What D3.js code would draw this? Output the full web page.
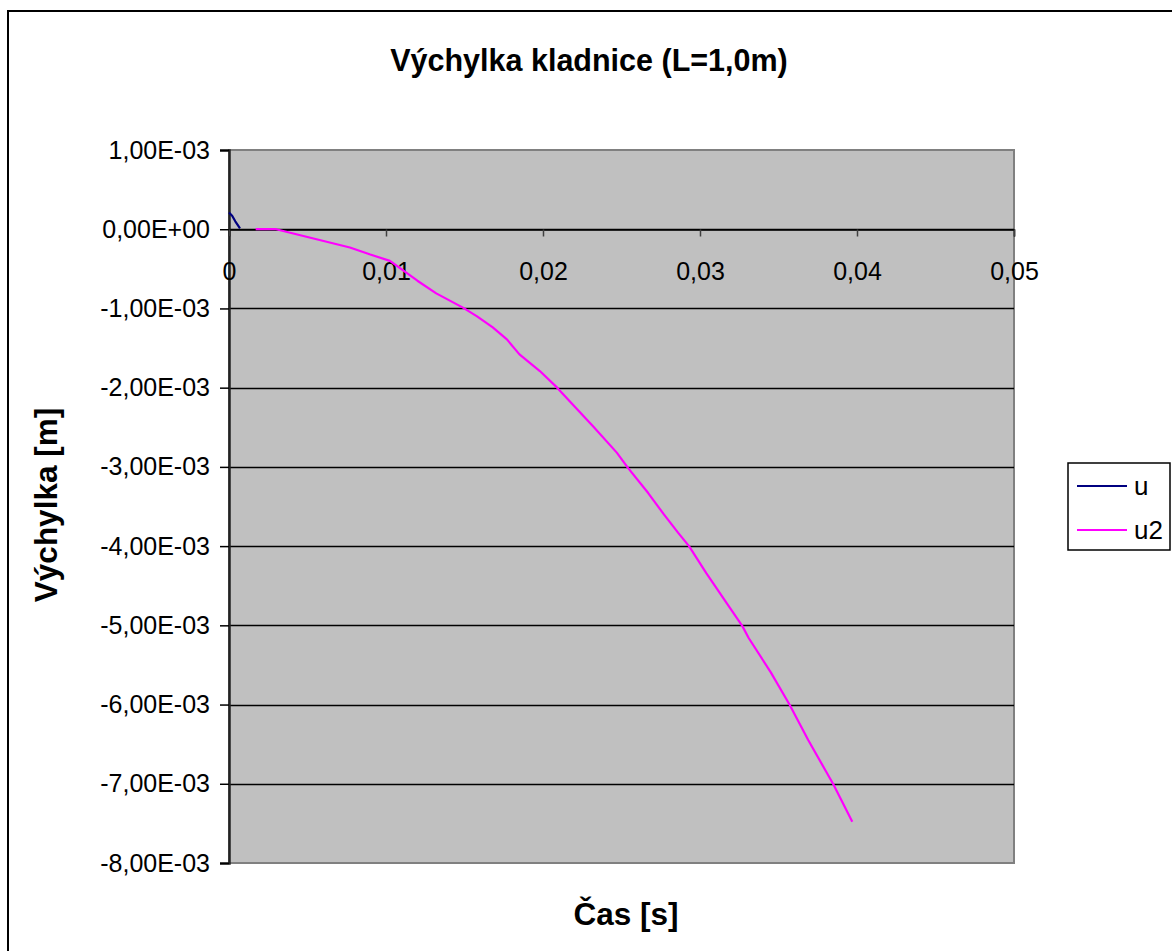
<!DOCTYPE html>
<html>
<head>
<meta charset="utf-8">
<script src="https://cdn.jsdelivr.net/npm/d3@7"></script>
<style>
  html, body { margin: 0; padding: 0; background: #fff; overflow: hidden; }
  text { font-family: Arial, "Liberation Sans", sans-serif; }
</style>
</head>
<body>
<svg id="chart" width="1172" height="951"></svg>
<script>
// Series: time [s] and displacement [m]
const uTime  = [0, 0.0002, 0.0004, 0.0007];
const uValue = [0.21e-3, 0.17e-3, 0.10e-3, 0.01e-3];

const u2Time  = [0.0017, 0.0030, 0.0077, 0.0090, 0.01025, 0.0120, 0.0132, 0.0149, 0.0158, 0.0168,
                 0.0177, 0.0185, 0.0198, 0.0209, 0.0217, 0.0232, 0.0247, 0.0254, 0.0267, 0.0277,
                 0.0286, 0.0293, 0.0304, 0.0317, 0.0327, 0.0331, 0.0345, 0.0357, 0.0369, 0.0385, 0.0397];
const u2Value = [0, 0, -0.23e-3, -0.32e-3, -0.40e-3, -0.65e-3, -0.81e-3, -0.99e-3, -1.10e-3, -1.24e-3,
                 -1.39e-3, -1.58e-3, -1.79e-3, -2.00e-3, -2.17e-3, -2.49e-3, -2.82e-3, -3.01e-3, -3.33e-3, -3.60e-3,
                 -3.83e-3, -4.00e-3, -4.34e-3, -4.72e-3, -5.01e-3, -5.16e-3, -5.59e-3, -6.00e-3, -6.45e-3, -7.01e-3, -7.48e-3];

const xTicks = [0, 0.01, 0.02, 0.03, 0.04, 0.05];
const xTickLabels = ["0", "0,01", "0,02", "0,03", "0,04", "0,05"];
const yTicks = [1e-3, 0, -1e-3, -2e-3, -3e-3, -4e-3, -5e-3, -6e-3, -7e-3, -8e-3];
const yTickLabels = ["1,00E-03", "0,00E+00", "-1,00E-03", "-2,00E-03", "-3,00E-03",
                     "-4,00E-03", "-5,00E-03", "-6,00E-03", "-7,00E-03", "-8,00E-03"];

const seriesNames = ["u", "u2"];
const seriesColors = ["#000080", "#FF00FF"];

const FONT = "Arial, 'Liberation Sans', sans-serif";
const svg = d3.select("#chart");

// Chart frame
svg.append("rect")
  .attr("x", 8).attr("y", 11).attr("width", 1200).attr("height", 1000)
  .attr("fill", "#fff").attr("stroke", "#000").attr("stroke-width", 2);

const plot = { left: 229, top: 150, right: 1014, bottom: 863 };

const x = d3.scaleLinear().domain([0, 0.05]).range([plot.left, plot.right]);
const y = d3.scaleLinear().domain([-8e-3, 1e-3]).range([plot.bottom, plot.top]);

// Plot area
svg.append("rect")
  .attr("x", plot.left).attr("y", plot.top)
  .attr("width", plot.right - plot.left).attr("height", plot.bottom - plot.top)
  .attr("fill", "#C0C0C0").attr("stroke", "#808080").attr("stroke-width", 2);

// Horizontal gridlines
svg.append("g")
  .selectAll("line")
  .data(yTicks.filter(v => v < 1e-3 && v > -8e-3))
  .join("line")
  .attr("x1", plot.left).attr("x2", plot.right)
  .attr("y1", d => Math.round(y(d)) + 0.5).attr("y2", d => Math.round(y(d)) + 0.5)
  .attr("stroke", "#000").attr("stroke-width", 1.5);

// Y axis
const yAxis = d3.axisLeft(y)
  .tickValues(yTicks)
  .tickFormat((d, i) => yTickLabels[i])
  .tickSize(9)
  .tickPadding(10);
const gy = svg.append("g").attr("transform", `translate(${plot.left},0)`).call(yAxis);
gy.select(".domain").attr("stroke", "#222").attr("stroke-width", 2.5);
gy.selectAll(".tick line").attr("stroke", "#000").attr("stroke-width", 1.5);
gy.selectAll(".tick text").attr("font-size", 25).attr("fill", "#000")
  .attr("font-family", FONT);

// X axis at zero
const xAxis = d3.axisBottom(x)
  .tickValues(xTicks)
  .tickFormat((d, i) => xTickLabels[i])
  .tickSize(7)
  .tickPadding(26);
const gx = svg.append("g").attr("transform", `translate(0,${Math.round(y(0)) + 0.5})`).call(xAxis);
gx.select(".domain").attr("stroke", "#000").attr("stroke-width", 1.5);
gx.selectAll(".tick line").attr("stroke", "#404040").attr("stroke-width", 1.5);
gx.selectAll(".tick text").attr("font-size", 25).attr("fill", "#000")
  .attr("font-family", FONT);

// Series lines
const line = d3.line().x(d => x(d[0])).y(d => y(d[1]));
const series = [
  d3.zip(uTime, uValue),
  d3.zip(u2Time, u2Value)
];
svg.append("g")
  .selectAll("path")
  .data(series)
  .join("path")
  .attr("d", line)
  .attr("fill", "none")
  .attr("stroke", (d, i) => seriesColors[i])
  .attr("stroke-width", 2.2)
  .attr("stroke-linejoin", "round");

// Title
svg.append("text")
  .attr("x", 589).attr("y", 71)
  .attr("text-anchor", "middle")
  .attr("font-size", 30.5).attr("font-weight", "bold")
  .text("Výchylka kladnice (L=1,0m)");

// Axis titles
svg.append("text")
  .attr("x", 626).attr("y", 925)
  .attr("text-anchor", "middle")
  .attr("font-size", 31.5).attr("font-weight", "bold")
  .text("Čas [s]");

svg.append("text")
  .attr("transform", "translate(57,505) rotate(-90)")
  .attr("text-anchor", "middle")
  .attr("font-size", 31.5).attr("font-weight", "bold")
  .text("Výchylka [m]");

// Legend
const legend = svg.append("g");
legend.append("rect")
  .attr("x", 1068).attr("y", 463).attr("width", 102).attr("height", 87)
  .attr("fill", "#fff").attr("stroke", "#000").attr("stroke-width", 1.5);
const items = legend.selectAll("g.item")
  .data(seriesNames)
  .join("g")
  .attr("class", "item")
  .attr("transform", (d, i) => `translate(0,${486 + i * 44})`);
items.append("line")
  .attr("x1", 1077).attr("x2", 1127)
  .attr("stroke", (d, i) => seriesColors[i]).attr("stroke-width", 2);
items.append("text")
  .attr("x", 1134).attr("y", 9)
  .attr("font-size", 26)
  .text(d => d);
</script>
</body>
</html>
